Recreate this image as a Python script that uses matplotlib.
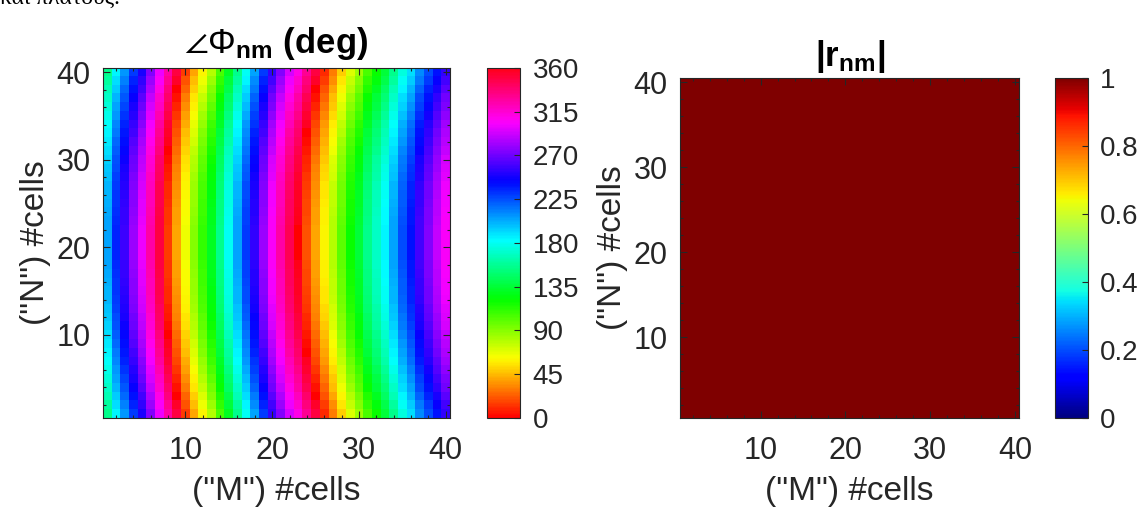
import numpy as np
import matplotlib
matplotlib.use("Agg")
import matplotlib.pyplot as plt
from matplotlib.ticker import MultipleLocator

plt.rcParams['font.family'] = ['Liberation Sans', 'DejaVu Sans']
plt.rcParams['mathtext.fontset'] = 'custom'
plt.rcParams['mathtext.rm'] = 'Liberation Sans'
plt.rcParams['mathtext.bf'] = 'Liberation Sans:bold'
plt.rcParams['mathtext.it'] = 'Liberation Sans:italic'

# phase (deg) along the M cells, read at the middle row (N ~ 20)
col_phase = [205, 235, 258, 280, 300, 325, 350, 15, 40, 65,
             90, 110, 130, 155, 180, 205, 230, 255, 280, 305,
             325, 345, 0, 20, 40, 60, 80, 100, 120, 135,
             155, 170, 185, 205, 225, 240, 260, 275, 290, 305]
# shift of the bands (deg) for each N row, bottom to top
half = [-50, -45, -40, -35, -31, -27, -23, -20, -17, -14,
        -11, -9, -7, -5, -4, -3, -2, -1, 0, 0]
row_offset = half + half[::-1]
# reflection magnitude, the same for every cell
r_value = 1.0
n_cells = 40

phase = (np.array(col_phase)[None, :] + np.array(row_offset)[:, None]) % 360
r_mag = np.full((n_cells, n_cells), r_value)

edge = '#262626'
fs = 22        # axes tick labels
fs_cb = 20     # colorbar tick labels
fs_lab = 24    # axis labels
ext = [0.5, n_cells + 0.5, 0.5, n_cells + 0.5]

fig = plt.figure(figsize=(11.45, 5.11), dpi=100)

fig.text(0.0, 1 - 4 / 511, 'και πλάτους.', fontsize=17,
         family=['Liberation Serif', 'DejaVu Serif'], va='baseline')


def style_axes(ax):
    ax.set_xlim(0.5, n_cells + 0.5)
    ax.set_ylim(0.5, n_cells + 0.5)
    ax.set_xticks([10, 20, 30, 40])
    ax.set_yticks([10, 20, 30, 40])
    ax.xaxis.set_minor_locator(MultipleLocator(2))
    ax.yaxis.set_minor_locator(MultipleLocator(2))
    ax.tick_params(which='both', direction='in', top=True, right=True,
                   colors=edge, labelsize=fs, width=0.8)
    ax.tick_params(which='major', length=5)
    ax.tick_params(which='minor', length=2.5)
    ax.tick_params(axis='x', pad=13)
    ax.tick_params(axis='y', pad=9)
    for s in ax.spines.values():
        s.set_color(edge)
    ax.set_xlabel('("M") #cells', fontsize=fs_lab, color=edge, labelpad=7)
    ax.set_ylabel('("N") #cells', fontsize=fs_lab, color=edge, labelpad=4)


def style_cbar(cb):
    cb.outline.set_edgecolor(edge)
    cb.ax.tick_params(direction='in', length=4, colors=edge, labelsize=fs_cb,
                      width=0.8, pad=9)


# left panel: phase
ax1 = fig.add_axes([0.090, 0.182, 0.303, 0.685])
im1 = ax1.imshow(phase, cmap='hsv', vmin=0, vmax=360, origin='lower',
                 extent=ext, aspect='auto', interpolation='nearest')
style_axes(ax1)
ax1.set_title(r'$\angle\Phi_{\mathbf{nm}}$ (deg)', fontsize=25,
              fontweight='bold', pad=11)
cax1 = fig.add_axes([0.4253, 0.182, 0.0288, 0.685])
cb1 = fig.colorbar(im1, cax=cax1, ticks=np.arange(0, 361, 45))
style_cbar(cb1)

# right panel: magnitude
ax2 = fig.add_axes([0.594, 0.182, 0.296, 0.665])
im2 = ax2.imshow(r_mag, cmap='jet', vmin=0, vmax=1, origin='lower',
                 extent=ext, aspect='auto', interpolation='nearest')
style_axes(ax2)
ax2.set_title(r'$\mathbf{|r_{nm}|}$', fontsize=25, pad=9)
cax2 = fig.add_axes([0.921, 0.182, 0.0288, 0.665])
cb2 = fig.colorbar(im2, cax=cax2, ticks=[0, 0.2, 0.4, 0.6, 0.8, 1])
cb2.ax.set_yticklabels(['0', '0.2', '0.4', '0.6', '0.8', '1'])
style_cbar(cb2)

fig.savefig('out.png', dpi=100)
